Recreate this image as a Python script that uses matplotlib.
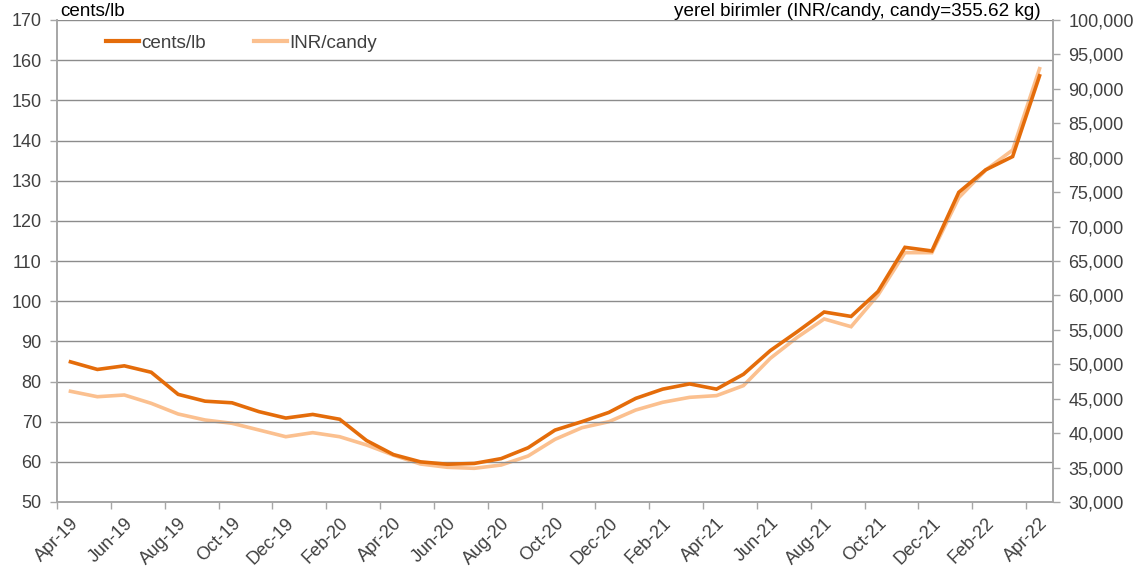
import matplotlib
matplotlib.use("Agg")
import matplotlib.pyplot as plt
from matplotlib.ticker import FuncFormatter, FixedLocator
from matplotlib.lines import Line2D

months = ["Apr-19", "May-19", "Jun-19", "Jul-19", "Aug-19", "Sep-19", "Oct-19", "Nov-19",
          "Dec-19", "Jan-20", "Feb-20", "Mar-20", "Apr-20", "May-20", "Jun-20", "Jul-20",
          "Aug-20", "Sep-20", "Oct-20", "Nov-20", "Dec-20", "Jan-21", "Feb-21", "Mar-21",
          "Apr-21", "May-21", "Jun-21", "Jul-21", "Aug-21", "Sep-21", "Oct-21", "Nov-21",
          "Dec-21", "Jan-22", "Feb-22", "Mar-22", "Apr-22"]

cents_lb = [84.9, 83.0, 83.9, 82.3, 76.8, 75.1, 74.7, 72.5, 70.9, 71.8, 70.6, 65.3,
            61.8, 60.0, 59.4, 59.6, 60.8, 63.5, 67.9, 70.0, 72.3, 75.8, 78.1, 79.4,
            78.1, 81.8, 87.7, 92.4, 97.3, 96.2, 102.4, 113.4, 112.5, 127.1, 132.7, 136.0,
            156.1]

inr_candy = [46080, 45290, 45540, 44330, 42780, 41910, 41430, 40460, 39480, 40070, 39480,
             38280, 36800, 35520, 35040, 34890, 35370, 36680, 39100, 40790, 41660, 43360,
             44480, 45200, 45450, 46900, 50870, 53920, 56580, 55460, 60060, 66210, 66210,
             74200, 78220, 81120, 92930]

series_names = ["cents/lb", "INR/candy"]
left_title = "cents/lb"
right_title = "yerel birimler (INR/candy, candy=355.62 kg)"

plt.rcParams["font.family"] = ["Liberation Sans", "DejaVu Sans"]
FS = 13
FS_T = 13.6
TXT = "#404040"
GRID = "#8C8C8C"
SPINE = "#A6A6A6"
DARK = "#E46C0A"
LIGHT = "#FBC08F"

fig = plt.figure(figsize=(11.48, 5.75), dpi=100)
ax = fig.add_axes([57 / 1148, 1 - 502 / 575, (1053 - 57) / 1148, (502 - 20) / 575])
ax2 = ax.twinx()

x = list(range(len(months)))
ax2.plot(x, inr_candy, color=LIGHT, lw=2.6, solid_joinstyle="miter", zorder=2)
ax.plot(x, cents_lb, color=DARK, lw=2.6, solid_joinstyle="miter", zorder=3)
ax.set_zorder(ax2.get_zorder() + 1)
ax.patch.set_visible(False)

ax.set_xlim(-0.5, len(months) - 0.5)
ax.set_ylim(50, 170)
ax.set_yticks(range(50, 171, 10))
ax2.set_ylim(30000, 100000)
ax2.set_yticks(range(30000, 100001, 5000))
ax2.yaxis.set_major_formatter(FuncFormatter(lambda v, p: f"{int(v):,}"))

ax.set_xticks(x[::2])
ax.set_xticklabels(months[::2], rotation=45, ha="right", va="top", rotation_mode="anchor")
ax.xaxis.set_minor_locator(FixedLocator([i - 0.5 for i in x[::2]]))
ax.tick_params(axis="x", which="major", length=0, pad=9, labelsize=FS, labelcolor=TXT)
ax.tick_params(axis="x", which="minor", length=5, color=SPINE, width=1, direction="out")
ax.tick_params(axis="y", length=5, color=SPINE, width=1, labelsize=FS, labelcolor=TXT, pad=6)
ax2.tick_params(axis="y", length=5, color=SPINE, width=1, labelsize=FS, labelcolor=TXT, pad=6)

ax.grid(axis="y", color=GRID, lw=1)
for a in (ax, ax2):
    a.spines["top"].set_visible(False)
    for s in ("left", "right", "bottom"):
        a.spines[s].set_color(SPINE)
        a.spines[s].set_linewidth(1.2)

fig.text(60 / 1148, 1 - 11 / 575, left_title, fontsize=FS_T, color="black", ha="left", va="center")
fig.text(1041 / 1148, 1 - 11 / 575, right_title, fontsize=FS_T, color="black", ha="right", va="center")

handles = [Line2D([], [], color=DARK, lw=3), Line2D([], [], color=LIGHT, lw=3)]
fig.legend(handles, series_names, loc="center left", bbox_to_anchor=(106 / 1148, 1 - 43 / 575),
           ncol=2, frameon=False, fontsize=FS_T, handlelength=1.75, handletextpad=0.12,
           columnspacing=2.55, borderpad=0, borderaxespad=0, labelcolor=TXT)

fig.savefig("out.png", dpi=100)
